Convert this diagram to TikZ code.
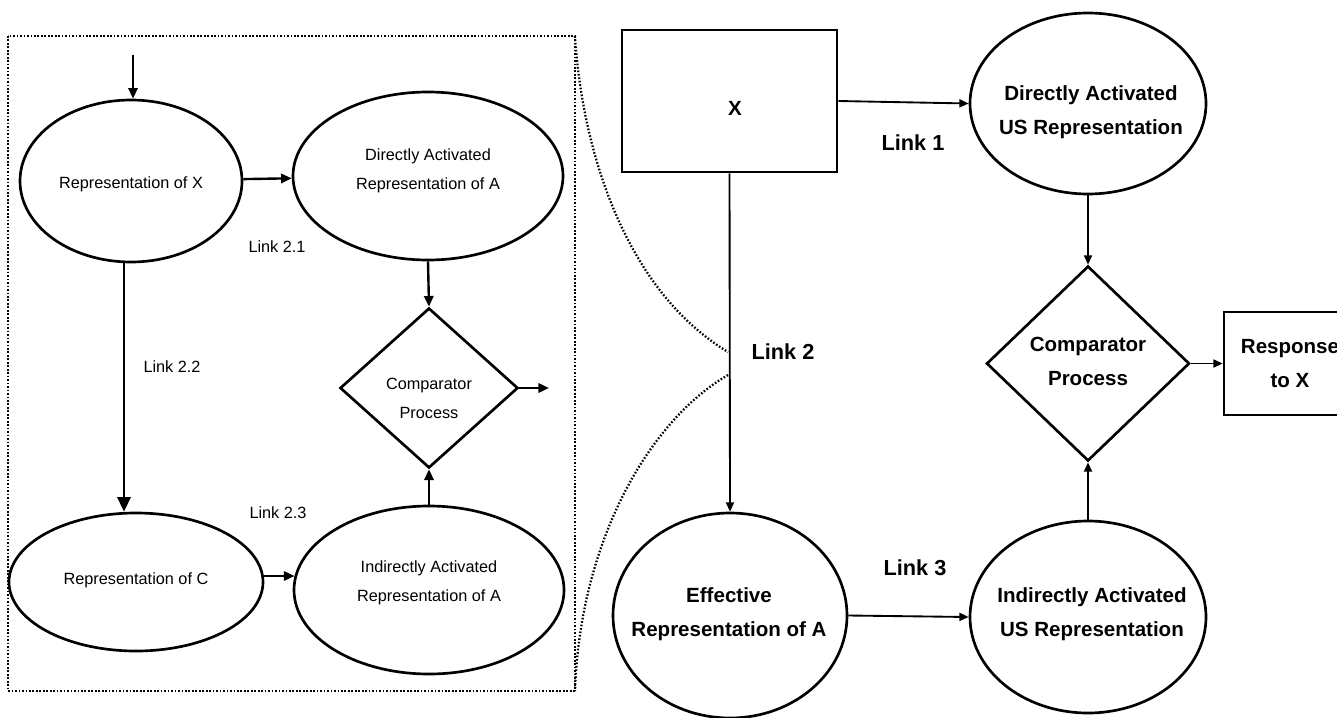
\documentclass[tikz,border=0pt]{standalone}
\usepackage{fontspec}
\setmainfont{Liberation Sans}
\usetikzlibrary{shapes.geometric,arrows.meta}
\begin{document}
\begin{tikzpicture}[x=0.75pt,y=-0.75pt,
  shp/.style={draw,line width=2pt,inner sep=0pt},
  ell/.style={shp,ellipse},
  dia/.style={shp,diamond},
  box/.style={shp,rectangle},
  ltxt/.style={align=center,font=\fontsize{12.2}{21.75}\selectfont,inner sep=0pt},
  rtxt/.style={align=center,font=\fontsize{15.4}{25.5}\selectfont\bfseries,inner sep=0pt},
  lnkl/.style={font=\fontsize{12.2}{15}\selectfont,inner sep=0pt},
  lnkr/.style={font=\fontsize{16.3}{19}\selectfont\bfseries,inner sep=0pt},
  larr/.style={line width=1.8pt,-{Triangle[length=8pt,width=7pt]}},
  bigarr/.style={line width=1.8pt,-{Triangle[length=11pt,width=10pt]}},
  rarr/.style={line width=1.4pt,-{Triangle[length=7pt,width=6pt]}},
  dots/.style={line width=2.2pt,dash pattern=on 1.3pt off 1.3pt},
  thindots/.style={line width=1.7pt,dash pattern=on 1.2pt off 1.4pt},
]
\useasboundingbox (0,0) rectangle (1337,717);

% ---------- left panel ----------
\draw[dots] (8,36) rectangle (575,691);
\coordinate (fTR) at (575,36);
\coordinate (fBR) at (575,691);

\node[ell,minimum width=166.5pt,minimum height=121.5pt] (RX) at (131,181) {};
\node[ell,minimum width=202.5pt,minimum height=126pt] (DA) at (428,176) {};
\node[ell,minimum width=190.5pt,minimum height=103.5pt] (RC) at (136,582) {};
\node[ell,minimum width=202.5pt,minimum height=126pt] (IA) at (429,590) {};
\node[dia,minimum width=133.5pt,minimum height=120pt] (DL) at (429,388) {};

\node[ltxt] (tRX) at (131,184) {Representation of X};
\node[ltxt] (tDA) at (428,171) {Directly Activated\\Representation of A};
\node[ltxt] (tRC) at (136,580) {Representation of C};
\node[ltxt] (tIA) at (429,583) {Indirectly Activated\\Representation of A};
\node[ltxt] (tDL) at (429,398) {Comparator\\Process};

\node[lnkl] (L21) at (277,247) {Link 2.1};
\node[lnkl] (L22) at (172,367) {Link 2.2};
\node[lnkl] (L23) at (278,513) {Link 2.3};

\coordinate (inTop) at (133,55);
\coordinate (outL) at (549,388);
\draw[larr] (inTop) -- ([xshift=1.5pt]RX.north);
\draw[larr] (RX) -- (DA);
\draw[larr] (DA.south) -- (DL.north);
\draw[bigarr] ([xshift=-5.25pt]RX.south) -- ([xshift=-9pt]RC.north);
\draw[larr] ([yshift=4.5pt]RC.east) -- ([yshift=10.5pt,xshift=1.4pt]IA.west);
\draw[larr] (IA.north) -- (DL.south);
\draw[larr] (DL.east) -- (outL);

% ---------- right panel ----------
\node[box,minimum width=161.25pt,minimum height=106.5pt] (XB) at (729.5,101) {};
\node[ell,minimum width=177pt,minimum height=135.75pt] (DAUS) at (1088,103.5) {};
\node[dia,minimum width=152.25pt,minimum height=146.25pt] (DR) at (1088,363.5) {};
\node[box,minimum width=99pt,minimum height=77.25pt] (RESP) at (1290,363.5) {};
\node[ell,minimum width=175.5pt,minimum height=153.75pt] (EFF) at (730,615.5) {};
\node[ell,minimum width=177pt,minimum height=144pt] (IAUS) at (1088,617) {};

\node[rtxt] (tX) at (735,108) {X};
\node[rtxt] (tDAUS) at (1091,112) {Directly Activated\\US Representation};
\node[rtxt] (tDR) at (1088,361) {Comparator\\Process};
\node[rtxt] (tRESP) at (1290,364) {Response\\to X};
\node[rtxt] (tEFF) at (729,614) {Effective\\Representation of A};
\node[rtxt] (tIAUS) at (1092,614) {Indirectly Activated\\US Representation};

\node[lnkr] (L1) at (913,143) {Link 1};
\node[lnkr] (L2) at (783,352) {Link 2};
\node[lnkr] (L3) at (915,568) {Link 3};

\draw[rarr] (XB.east) -- (DAUS.west);
\draw[rarr] (XB.south) -- (EFF.north);
\draw[rarr] (DAUS.south) -- (DR.north);
\draw[rarr] (IAUS.north) -- (DR.south);
\draw[rarr] (DR.east) -- (RESP.west);
\draw[rarr] (EFF.east) -- (IAUS.west);

% ---------- zoom curves ----------
\coordinate (l2a) at (728,352);
\coordinate (l2b) at (728,375);
\draw[thindots] (fTR) .. controls (582,150) and (625,290) .. (l2a);
\draw[thindots] (l2b) .. controls (650,420) and (580,540) .. (fBR);
\end{tikzpicture}
\end{document}
